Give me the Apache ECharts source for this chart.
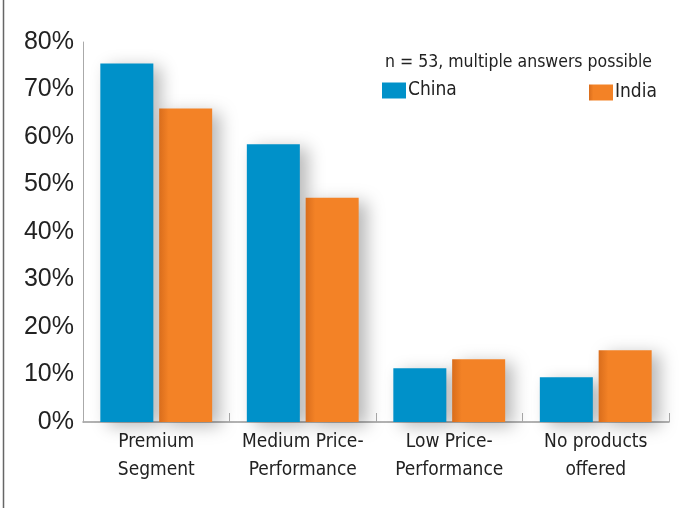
<!DOCTYPE html>
<html>
<head>
<meta charset="utf-8">
<script src="https://cdn.jsdelivr.net/npm/echarts@6/dist/echarts.min.js"></script>
<style>
  html, body { margin: 0; padding: 0; background: #fff; }
  #chart { width: 681px; height: 508px; }
</style>
</head>
<body>
<div id="chart"></div>
<script>
// Segments in which products are offered (share of respondents, n = 53)
const categories = ['Premium\nSegment', 'Medium Price-\nPerformance', 'Low Price-\nPerformance', 'No products\noffered'];
const chinaPct = [75.5, 58.5, 11.3, 9.4];
const indiaPct = [66.0, 47.2, 13.2, 15.1];
const yTicks = [0, 10, 20, 30, 40, 50, 60, 70, 80];
const noteText = 'n = 53, multiple answers possible';

const BLUE = '#0091c9';
const ORANGE = '#f38226';
const condensed = '"Liberation Sans Narrow", "DejaVu Sans Condensed", sans-serif';

const chart = echarts.init(document.getElementById('chart'), null, { renderer: 'canvas' });

const barShadow = {
  shadowColor: 'rgba(0,0,0,0.28)',
  shadowBlur: 16,
  shadowOffsetX: 8,
  shadowOffsetY: 4
};

const legendText = { fontFamily: condensed, fontSize: 19, color: '#222', padding: [0, 0, 0, -3] };

chart.setOption({
  animation: false,
  backgroundColor: '#fff',
  title: {
    text: noteText,
    left: 385,
    top: 53,
    padding: 0,
    textStyle: { fontFamily: condensed, fontSize: 17.5, fontWeight: 'normal', color: '#222' }
  },
  legend: [
    {
      data: ['China'], left: 382, top: 81, padding: 0,
      itemWidth: 24, itemHeight: 16, itemGap: 2,
      icon: 'rect', textStyle: legendText
    },
    {
      data: ['India'], left: 589, top: 83, padding: 0,
      itemWidth: 24, itemHeight: 16, itemGap: 2,
      icon: 'rect', textStyle: legendText
    }
  ],
  grid: { left: 83, right: 12, top: 42, bottom: 86 },
  xAxis: {
    type: 'category',
    data: categories,
    axisLine: { lineStyle: { color: '#999', width: 1.5 } },
    axisTick: { show: true, inside: true, interval: 0, length: 9, lineStyle: { color: '#aaa' } },
    axisLabel: {
      interval: 0,
      fontFamily: condensed, fontSize: 19, color: '#222',
      lineHeight: 28, margin: 6
    }
  },
  yAxis: {
    type: 'value',
    min: 0, max: 80, interval: 10,
    axisLine: { show: true, lineStyle: { color: '#aaa', width: 1 } },
    axisTick: { show: false },
    splitLine: { show: false },
    axisLabel: {
      margin: 9,
      fontFamily: '"Liberation Sans", Arial, sans-serif',
      fontSize: 25, color: '#222',
      formatter: v => (yTicks.includes(v) ? v + '%' : '')
    }
  },
  series: [
    {
      name: 'China', type: 'bar', data: chinaPct,
      barWidth: 53, barGap: '11%',
      itemStyle: Object.assign({ color: BLUE }, barShadow)
    },
    {
      name: 'India', type: 'bar', data: indiaPct,
      barWidth: 53,
      itemStyle: Object.assign({
        color: new echarts.graphic.LinearGradient(0, 0, 1, 0, [
          { offset: 0, color: '#d96d1c' },
          { offset: 0.18, color: ORANGE },
          { offset: 1, color: ORANGE }
        ])
      }, barShadow)
    }
  ],
  graphic: [
    {
      type: 'line',
      shape: { x1: 3.5, y1: 0, x2: 3.5, y2: 508 },
      style: { stroke: '#666', lineWidth: 1.5 }
    }
  ]
});
</script>
</body>
</html>
